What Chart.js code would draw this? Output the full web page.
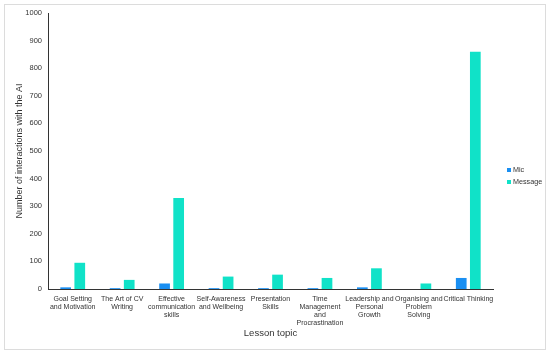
<!DOCTYPE html>
<html>
<head>
<meta charset="utf-8">
<script src="https://cdn.jsdelivr.net/npm/chart.js@4"></script>
<style>
  html, body { margin: 0; padding: 0; background: #fff; }
  #wrap { position: relative; width: 550px; height: 353px; }
</style>
</head>
<body>
<div id="wrap"><canvas id="chart" width="550" height="353"></canvas></div>
<script>
const topics = [
  ['Goal Setting', 'and Motivation'],
  ['The Art of CV', 'Writing'],
  ['Effective', 'communication', 'skills'],
  ['Self-Awareness', 'and Wellbeing'],
  ['Presentation', 'Skills'],
  ['Time', 'Management', 'and', 'Procrastination'],
  ['Leadership and', 'Personal', 'Growth'],
  ['Organising and', 'Problem', 'Solving'],
  'Critical Thinking'
];
const micValues = [6, 3, 20, 3, 3, 3, 6, 0, 40];
const messageValues = [95, 33, 330, 45, 52, 40, 75, 20, 860];
const yTicks = [0, 100, 200, 300, 400, 500, 600, 700, 800, 900, 1000];

const fontFamily = '"Liberation Sans", Arial, sans-serif';

// frame around the figure + white background
const frame = {
  id: 'frame',
  beforeDraw(chart) {
    const ctx = chart.ctx;
    ctx.save();
    ctx.fillStyle = '#fff';
    ctx.fillRect(0, 0, chart.width, chart.height);
    ctx.strokeStyle = '#dcdcdc';
    ctx.lineWidth = 1;
    ctx.strokeRect(4.5, 4.5, 541, 345);
    ctx.restore();
  }
};

// small legend to the right of the plot
const sideLegend = {
  id: 'sideLegend',
  afterDraw(chart) {
    const ctx = chart.ctx;
    const x = chart.chartArea.right + 14;
    let y = 170;
    ctx.save();
    ctx.font = '7.2px ' + fontFamily;
    ctx.textBaseline = 'middle';
    chart.data.datasets.forEach(ds => {
      ctx.fillStyle = ds.backgroundColor;
      ctx.fillRect(x, y - 2, 4, 4);
      ctx.fillStyle = '#333';
      ctx.fillText(ds.label, x + 6, y);
      y += 12;
    });
    ctx.restore();
  }
};

new Chart(document.getElementById('chart').getContext('2d'), {
  type: 'bar',
  data: {
    labels: topics,
    datasets: [
      { label: 'Mic', data: micValues, backgroundColor: '#1a8ff2' },
      { label: 'Message', data: messageValues, backgroundColor: '#10e2c8' }
    ]
  },
  options: {
    responsive: false,
    animation: false,
    layout: { padding: { left: 0, top: 13, right: 57, bottom: 10 } },
    datasets: { bar: { categoryPercentage: 0.57, barPercentage: 0.76 } },
    plugins: {
      legend: { display: false },
      tooltip: { enabled: false }
    },
    scales: {
      x: {
        grid: { display: false, drawTicks: false },
        border: { color: '#333', width: 1 },
        ticks: { font: { family: fontFamily, size: 7, lineHeight: 1.15 }, padding: 6, maxRotation: 0, autoSkip: false, color: '#333' },
        title: { display: true, text: 'Lesson topic', font: { family: fontFamily, size: 9.5 }, color: '#333', padding: { top: 4, bottom: 4 } },
        afterFit(axis) { axis.height = 54; }
      },
      y: {
        min: 0,
        max: 1000,
        afterBuildTicks(axis) { axis.ticks = yTicks.map(v => ({ value: v })); },
        grid: { display: false, drawTicks: false },
        border: { color: '#333', width: 1 },
        ticks: { font: { family: fontFamily, size: 7.5 }, padding: 6, color: '#333', callback: v => String(v) },
        title: { display: true, text: 'Number of interactions with the AI', font: { family: fontFamily, size: 9 }, color: '#333', padding: { top: 14, bottom: 4 } },
        afterFit(axis) { axis.width = 48; }
      }
    }
  },
  plugins: [frame, sideLegend]
});
</script>
</body>
</html>
